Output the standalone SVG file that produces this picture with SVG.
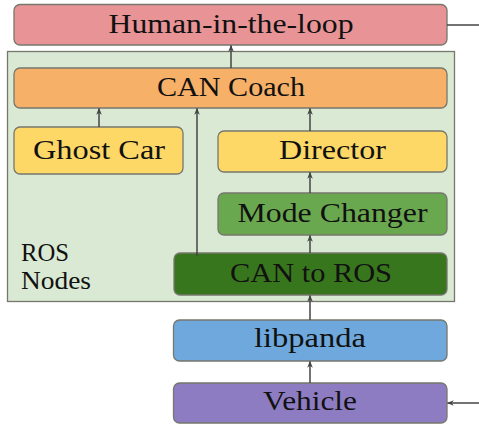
<svg xmlns="http://www.w3.org/2000/svg" width="479" height="425" viewBox="0 0 479 425">
<style>
.n{stroke:#77776e;stroke-width:1.3}
.t{font-family:"Liberation Serif",serif;font-size:28px;fill:#111;text-anchor:middle}
.s{font-family:"Liberation Serif",serif;font-size:25px;fill:#111}
.c{stroke:#444;stroke-width:1.5;fill:none}
</style>
<defs>
<marker id="a" viewBox="0 0 10 10" refX="9" refY="5" markerWidth="7" markerHeight="7" orient="auto" markerUnits="userSpaceOnUse">
<path d="M0,1 L10,5 L0,9 L3,5 Z" fill="#444"/>
</marker>
</defs>
<rect x="0" y="0" width="479" height="425" fill="#fff"/>
<g id="ros-nodes">
<rect x="7.5" y="51.5" width="447" height="250" fill="#d9e9d3" stroke="#77776e" stroke-width="1.3"/>
<text class="s" x="21" y="261" textLength="48" lengthAdjust="spacingAndGlyphs">ROS</text>
<text class="s" x="21" y="289" textLength="70" lengthAdjust="spacingAndGlyphs">Nodes</text>
</g>
<g id="human">
<rect class="n" x="14" y="4.5" width="433" height="40.5" rx="6" fill="#e89497"/>
<text class="t" x="231" y="33" textLength="245" lengthAdjust="spacingAndGlyphs">Human-in-the-loop</text>
</g>
<g id="can-coach">
<rect class="n" x="14" y="68" width="433" height="40" rx="6" fill="#f6b068"/>
<text class="t" x="231" y="96" textLength="148" lengthAdjust="spacingAndGlyphs">CAN Coach</text>
</g>
<g id="ghost-car">
<rect class="n" x="14" y="127" width="169" height="47" rx="6" fill="#fed866"/>
<text class="t" x="99" y="159" textLength="132" lengthAdjust="spacingAndGlyphs">Ghost Car</text>
</g>
<g id="director">
<rect class="n" x="218" y="131" width="229" height="41" rx="6" fill="#fed866"/>
<text class="t" x="332.5" y="159" textLength="107" lengthAdjust="spacingAndGlyphs">Director</text>
</g>
<g id="mode-changer">
<rect class="n" x="218" y="193" width="229" height="42" rx="6" fill="#6aa84f"/>
<text class="t" x="332.5" y="222" textLength="190" lengthAdjust="spacingAndGlyphs">Mode Changer</text>
</g>
<g id="can-to-ros">
<rect class="n" x="174" y="253" width="273" height="42" rx="6" fill="#38761d"/>
<text class="t" x="311" y="282" textLength="162" lengthAdjust="spacingAndGlyphs">CAN to ROS</text>
</g>
<g id="libpanda">
<rect class="n" x="173.5" y="320" width="273.5" height="41" rx="6" fill="#6fa8dc"/>
<text class="t" x="310" y="347" textLength="112" lengthAdjust="spacingAndGlyphs">libpanda</text>
</g>
<g id="vehicle">
<rect class="n" x="173.5" y="383" width="273.5" height="40" rx="6" fill="#8e7cc3"/>
<text class="t" x="310" y="410" textLength="94" lengthAdjust="spacingAndGlyphs">Vehicle</text>
</g>
<g id="connectors">
<path class="c" d="M231,68 V45.5" marker-end="url(#a)"/>
<path class="c" d="M99,127 V108.5" marker-end="url(#a)"/>
<path class="c" d="M197,256 V108.5" marker-end="url(#a)"/>
<path class="c" d="M310,131 V108.5" marker-end="url(#a)"/>
<path class="c" d="M310,193 V172.5" marker-end="url(#a)"/>
<path class="c" d="M310,253 V235.5" marker-end="url(#a)"/>
<path class="c" d="M310,320 V295.5" marker-end="url(#a)"/>
<path class="c" d="M310,383 V361.5" marker-end="url(#a)"/>
<path class="c" d="M447,25 H479"/>
<path class="c" d="M479,403 H447.5" marker-end="url(#a)"/>
</g>
</svg>
